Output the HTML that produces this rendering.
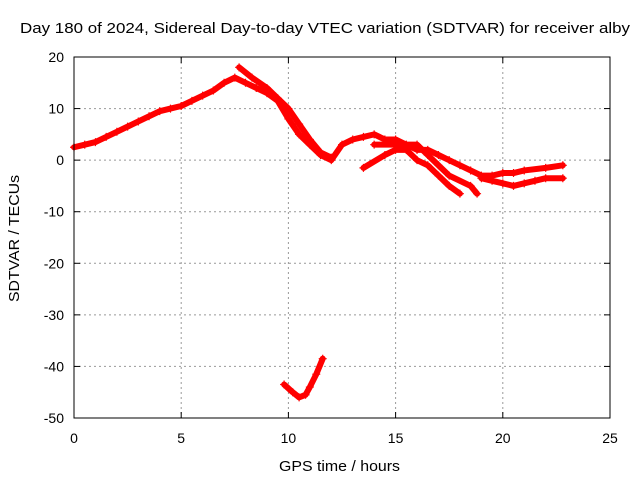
<!DOCTYPE html>
<html><head><meta charset="utf-8"><style>
body{margin:0;background:#fff;}
svg{display:block;font-family:"Liberation Sans",sans-serif;}
</style></head><body>
<svg id="chart" width="640" height="480">
<rect width="640" height="480" fill="#fff"/>
<text x="20" y="33" font-size="15" textLength="610" lengthAdjust="spacingAndGlyphs">Day 180 of 2024, Sidereal Day-to-day VTEC variation (SDTVAR) for receiver alby</text>
<g id="grid"></g>
<g id="marks"></g>
<rect x="74" y="57" width="536" height="361" fill="none" stroke="#000"/>
<text x="279" y="471" font-size="15" textLength="121" lengthAdjust="spacingAndGlyphs">GPS time / hours</text>
<text transform="translate(19,302) rotate(-90)" font-size="15" textLength="127" lengthAdjust="spacingAndGlyphs">SDTVAR / TECUs</text>
</svg>
<script>
const xTicks=[0,5,10,15,20,25];
const yTicks=[20,10,0,-10,-20,-30,-40,-50];
const trackA=[[0,2.5],[0.5,3],[1,3.5],[1.5,4.5],[2,5.5],[2.5,6.5],[3,7.5],[3.5,8.5],[4,9.5],[4.5,10],[5,10.5],[5.5,11.5],[6,12.5],[6.5,13.5],[7,15],[7.5,16],[8,15],[8.5,14],[9,13],[9.5,11.5],[10,8],[10.5,5],[11,3],[11.5,1],[12,0],[12.5,3],[13,4],[13.5,4.5],[14,5],[14.5,4],[15,4],[15.5,3],[16,2],[16.5,2],[17,1],[17.5,0],[18,-1],[18.5,-2],[19,-3],[19.5,-3],[20,-2.5],[20.5,-2.5],[21,-2],[22,-1.5],[22.8,-1]];
const trackB=[[7.7,18],[8.3,16],[9,14],[9.5,12],[10,10],[10.5,7],[11,4],[11.5,1.5],[12,0.5]];
const trackC=[[13.5,-1.5],[14.5,1],[15,2],[15.5,2],[16,0],[16.5,-1],[17,-3],[17.5,-5],[18,-6.5]];
const trackD=[[14,3],[15,3],[16,3],[16.5,1],[17,-1],[17.5,-3],[18.5,-5],[18.8,-6.5]];
const trackE=[[19,-3.5],[19.5,-4],[20,-4.5],[20.5,-5],[21,-4.5],[21.5,-4],[22,-3.5],[22.8,-3.5]];
const trackF=[[9.8,-43.5],[10.2,-45],[10.5,-46],[10.8,-45.5],[11,-44],[11.3,-41.5],[11.6,-38.5]];
const X0=74,X1=610,Y0=418,Y1=57;
const sx=v=>X0+(v-0)/25*(X1-X0);
const sy=v=>Y0-(v+50)/70*(Y0-Y1);
const NS="http://www.w3.org/2000/svg";
const grid=document.getElementById('grid'),marks=document.getElementById('marks');
function mk(tag,attrs,parent){const e=document.createElementNS(NS,tag);for(const k in attrs)e.setAttribute(k,attrs[k]);parent.appendChild(e);return e;}
xTicks.forEach(t=>{
  const x=sx(t);
  if(t>0&&t<25){const g=mk('line',{x1:x,x2:x,y1:Y1,y2:Y0,stroke:'#999','stroke-dasharray':'2,3'},grid);
  
  }
  mk('line',{x1:x,x2:x,y1:Y0,y2:Y0-6,stroke:'#000'},grid);
  mk('line',{x1:x,x2:x,y1:Y1,y2:Y1+6,stroke:'#000'},grid);
  const l=mk('text',{x:x,y:443,'font-size':14,'text-anchor':'middle'},grid);l.textContent=t;
  
  
});
yTicks.forEach(t=>{
  const y=sy(t);
  if(t<20&&t>-50){const g=mk('line',{x1:X0,x2:X1,y1:y,y2:y,stroke:'#999','stroke-dasharray':'2,3'},grid);
  
  }
  mk('line',{x1:X0,x2:X0+6,y1:y,y2:y,stroke:'#000'},grid);
  mk('line',{x1:X1,x2:X1-6,y1:y,y2:y,stroke:'#000'},grid);
  const l=mk('text',{x:64,y:y+5,'font-size':14,'text-anchor':'end'},grid);l.textContent=t;
  
  
});
[trackA,trackB,trackC,trackD,trackE,trackF].forEach((tr,i)=>{
  const p=mk('polyline',{points:tr.map(d=>sx(d[0])+','+sy(d[1])).join(' '),fill:'none',stroke:'#f00','stroke-width':6,'stroke-linejoin':'round','stroke-linecap':'round'},marks);
  
  
  tr.forEach(d=>{
    const x=sx(d[0]),y=sy(d[1]);
    const c=mk('path',{d:`M${x-4},${y}H${x+4}M${x},${y-4}V${y+4}`,stroke:'#f00','stroke-width':1.2},marks);
    
    
  });
});
</script>
</body></html>
